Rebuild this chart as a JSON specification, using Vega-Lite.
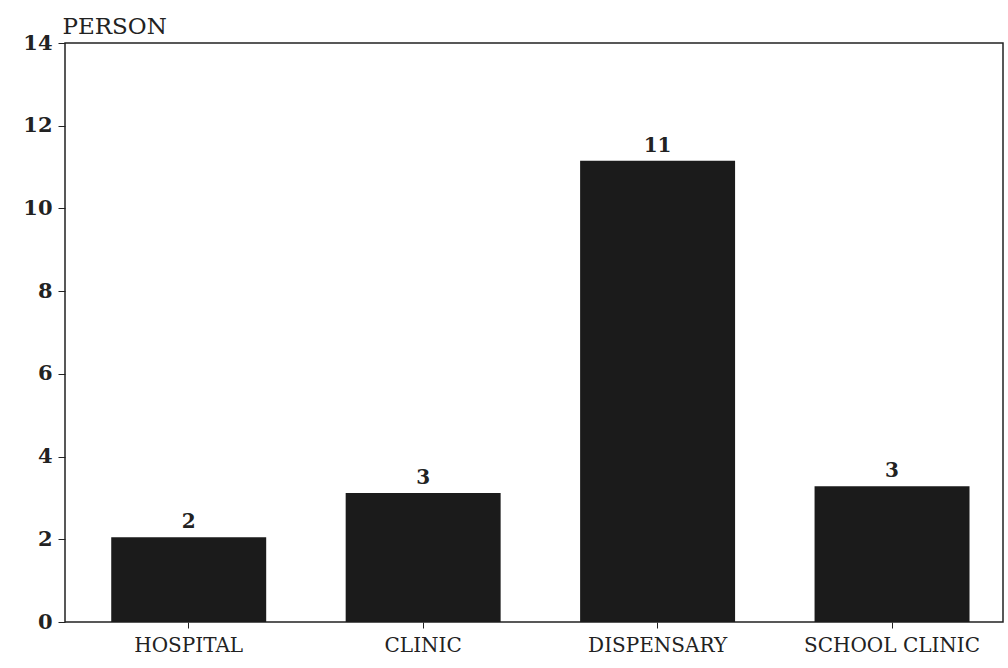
{
  "$schema": "https://vega.github.io/schema/vega-lite/v6.json",
  "width": 938,
  "height": 579,
  "autosize": {"type": "none"},
  "padding": {"left": 65, "top": 43, "right": 5, "bottom": 46},
  "background": "white",
  "config": {
    "view": {"stroke": "#222", "strokeWidth": 1.5},
    "font": "DejaVu Serif"
  },
  "data": {
    "values": [
      {"place": "HOSPITAL", "persons": 2, "height": 2.05},
      {"place": "CLINIC", "persons": 3, "height": 3.12},
      {"place": "DISPENSARY", "persons": 11, "height": 11.15},
      {"place": "SCHOOL CLINIC", "persons": 3, "height": 3.28}
    ]
  },
  "encoding": {
    "x": {
      "field": "place",
      "type": "nominal",
      "sort": null,
      "scale": {"paddingInner": 0.339, "paddingOuter": 0.17, "align": 0.58},
      "axis": {
        "title": null,
        "labelAngle": 0,
        "labelFont": "DejaVu Serif",
        "labelFontSize": 20,
        "labelColor": "#222",
        "labelPadding": 7,
        "tickSize": 6,
        "tickColor": "#222",
        "domain": false,
        "grid": false
      }
    },
    "y": {
      "field": "height",
      "type": "quantitative",
      "scale": {"domain": [0, 14], "nice": false},
      "axis": {
        "title": "PERSON",
        "titleAngle": 0,
        "titleAlign": "left",
        "titleBaseline": "alphabetic",
        "titleX": -3,
        "titleY": -10,
        "titleFont": "DejaVu Serif",
        "titleFontSize": 23,
        "titleFontWeight": "normal",
        "titleColor": "#222",
        "values": [0, 2, 4, 6, 8, 10, 12, 14],
        "labelFont": "DejaVu Serif",
        "labelFontSize": 21,
        "labelFontWeight": "bold",
        "labelColor": "#222",
        "labelPadding": 6,
        "tickSize": 7,
        "tickColor": "#222",
        "domain": false,
        "grid": false
      }
    }
  },
  "layer": [
    {"mark": {"type": "bar", "color": "#1b1b1b"}},
    {
      "mark": {
        "type": "text",
        "dy": -15,
        "font": "DejaVu Serif",
        "fontSize": 20,
        "fontWeight": "bold",
        "color": "#222"
      },
      "encoding": {"text": {"field": "persons", "type": "quantitative"}}
    }
  ]
}
